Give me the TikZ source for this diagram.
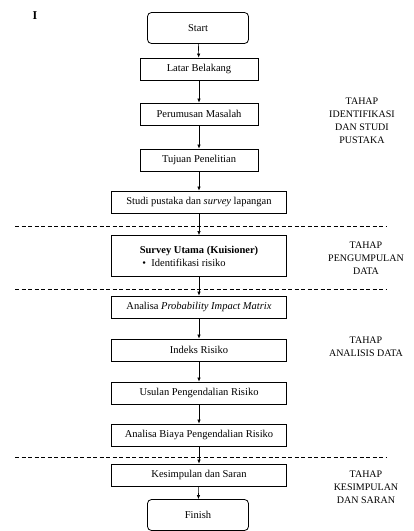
\documentclass[tikz,border=0pt]{standalone}
\usepackage{fontspec}
\setmainfont{Liberation Serif}
\usetikzlibrary{arrows.meta}
\tikzset{
  kotak/.style={draw, line width=0.8pt, minimum width=118pt, minimum height=22pt, inner sep=2pt, font=\fontsize{10.5}{12}\selectfont},
  lebar/.style={kotak, minimum width=175pt},
  ujung/.style={kotak, rounded corners=4pt, minimum width=101pt, minimum height=31pt},
  tahap/.style={align=center, font=\fontsize{10}{13}\selectfont},
  panah/.style={-{Latex[length=4pt,width=3.5pt]}, line width=0.6pt},
  batas/.style={dash pattern=on 4pt off 2.5pt, line width=0.6pt}
}
\begin{document}
\begin{tikzpicture}[x=1pt,y=-1pt]
	\useasboundingbox (0,0) rectangle (414,531);
	\node[font=\bfseries\large] (nomor) at (35,16) {I};
	% alur utama
	\node[ujung] (start) at (198,28) {Start};
	\node[kotak] (latar) at (199,69) {Latar Belakang};
	\node[kotak] (rumusan) at (199,114) {Perumusan Masalah};
	\node[kotak] (tujuan) at (199,160) {Tujuan Penelitian};
	\node[lebar] (studi) at (199,202) {Studi pustaka dan \textit{survey} lapangan};
	\node[lebar, minimum height=41pt, align=left] (survey) at (199,256) {\textbf{Survey Utama (Kuisioner)}\\[1pt] \ \textbullet\ \ Identifikasi risiko};
	\node[lebar] (pim) at (199,307) {Analisa \textit{Probability Impact Matrix}};
	\node[lebar] (indeks) at (199,350) {Indeks Risiko};
	\node[lebar] (usulan) at (199,393) {Usulan Pengendalian Risiko};
	\node[lebar] (biaya) at (199,435) {Analisa Biaya Pengendalian Risiko};
	\node[lebar] (simpul) at (199,475) {Kesimpulan dan Saran};
	\node[ujung] (finish) at (198,515) {Finish};
	\draw[panah] (start) -- (latar);
	\draw[panah] (latar) -- (rumusan);
	\draw[panah] (rumusan) -- (tujuan);
	\draw[panah] (tujuan) -- (studi);
	\draw[panah] (studi) -- (survey);
	\draw[panah] (survey) -- (pim);
	\draw[panah] (pim) -- (indeks);
	\draw[panah] (indeks) -- (usulan);
	\draw[panah] (usulan) -- (biaya);
	\draw[panah] (biaya) -- (simpul);
	\draw[panah] (simpul) -- (finish);
	% garis pemisah tahap
	\draw[batas] (15,226) -- (387,226);
	\draw[batas] (15,289) -- (387,289);
	\draw[batas] (15,457) -- (387,457);
	% keterangan tahap
	\node[tahap] (tahap1) at (362,121) {TAHAP\\IDENTIFIKASI\\DAN STUDI\\PUSTAKA};
	\node[tahap] (tahap2) at (366,258) {TAHAP\\PENGUMPULAN\\DATA};
	\node[tahap] (tahap3) at (366,347) {TAHAP\\ANALISIS DATA};
	\node[tahap] (tahap4) at (366,487) {TAHAP\\KESIMPULAN\\DAN SARAN};
\end{tikzpicture}
\end{document}
